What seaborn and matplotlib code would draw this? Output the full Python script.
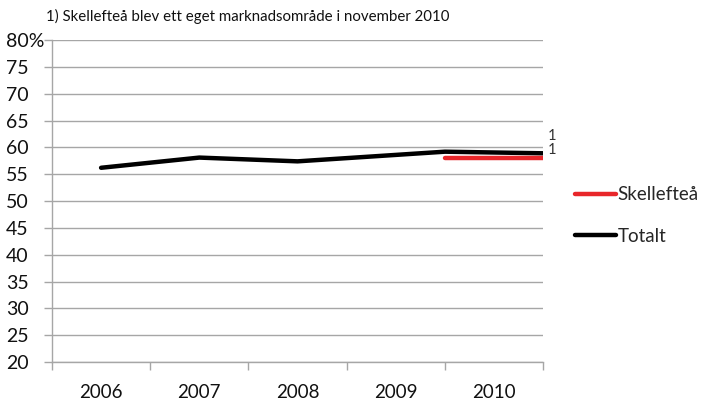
import matplotlib
matplotlib.use("Agg")
import matplotlib.pyplot as plt
import matplotlib.ticker as mticker
from matplotlib.lines import Line2D
import seaborn as sns
import pandas as pd

sns.set_theme(style="white")
plt.rcParams["font.family"] = ["Lato", "DejaVu Sans"]

years = ["2006", "2007", "2008", "2009", "2010"]
y_ticks = [20, 25, 30, 35, 40, 45, 50, 55, 60, 65, 70, 75, 80]

# Totalt: yearly points, the last segment runs across the 2010 band
total_x = [0, 1, 2, 3.5, 4.5]
total_y = [56.2, 58.1, 57.4, 59.2, 58.9]
# Skellefteå: separate market area from November 2010
skel_x = [3.5, 4.5]
skel_y = [58.1, 58.1]

df = pd.concat([
    pd.DataFrame({"x": total_x, "y": total_y, "serie": "Totalt"}),
    pd.DataFrame({"x": skel_x, "y": skel_y, "serie": "Skellefteå"}),
])

fig = plt.figure(figsize=(7.09, 4.01), dpi=100)
ax = fig.add_axes([0.0733, 0.0973, 0.6927, 0.8027])

palette = {"Totalt": "#000000", "Skellefteå": "#e8262a"}
sns.lineplot(data=df, x="x", y="y", hue="serie", palette=palette,
             hue_order=["Totalt", "Skellefteå"], linewidth=3.2,
             legend=False, ax=ax, sort=False, estimator=None)
for ln in ax.lines:
    ln.set_solid_capstyle("round")
ax.lines[-1].set_zorder(3)

ax.set_xlim(-0.5, 4.5)
ax.set_ylim(20, 80)
ax.set_xlabel("")
ax.set_ylabel("")

grid_c = "#a6a6a6"
ax.yaxis.set_major_locator(mticker.FixedLocator(y_ticks))
ax.yaxis.grid(True, color=grid_c, linewidth=1.0)
ax.set_axisbelow(True)
ylabels = [str(v) for v in y_ticks]
ylabels[-1] = "80%"
ax.set_yticklabels(ylabels)
for lab in ax.get_yticklabels():
    lab.set_horizontalalignment("left")
ax.tick_params(axis="y", which="major", left=True, length=6, width=1,
               color=grid_c, labelsize=14, pad=27, labelcolor="#111111")

ax.xaxis.set_major_locator(mticker.FixedLocator([-0.5, 0.5, 1.5, 2.5, 3.5, 4.5]))
ax.xaxis.set_major_formatter(mticker.NullFormatter())
ax.xaxis.set_minor_locator(mticker.FixedLocator(range(len(years))))
ax.xaxis.set_minor_formatter(mticker.FixedFormatter(years))
ax.tick_params(axis="x", which="major", bottom=True, length=6, width=1, color=grid_c)
ax.tick_params(axis="x", which="minor", bottom=False, labelsize=13.5, pad=12,
               labelcolor="#111111")

for side in ["top", "right"]:
    ax.spines[side].set_visible(False)
ax.spines["left"].set_color(grid_c)
ax.spines["bottom"].set_color(grid_c)
ax.spines["left"].set_linewidth(1)
ax.spines["bottom"].set_linewidth(1)

# footnote markers at the end of the series
ax.text(4.55, 62.2, "1", fontsize=10.5, color="#333333", va="center", ha="left")
ax.text(4.55, 59.5, "1", fontsize=10.5, color="#333333", va="center", ha="left")

fig.text(0.065, 0.96, "1) Skellefteå blev ett eget marknadsområde i november 2010",
         fontsize=10.8, color="#111111", va="center", ha="left")

handles = [Line2D([], [], color="#e8262a", linewidth=3.2),
           Line2D([], [], color="#000000", linewidth=3.2)]
fig.legend(handles, ["Skellefteå", "Totalt"], loc="center left",
           bbox_to_anchor=(0.80, 0.463), frameon=False, fontsize=13.5,
           handlelength=2.2, handletextpad=0.1, labelspacing=1.3,
           borderaxespad=0)

fig.savefig("out.png", dpi=100)
